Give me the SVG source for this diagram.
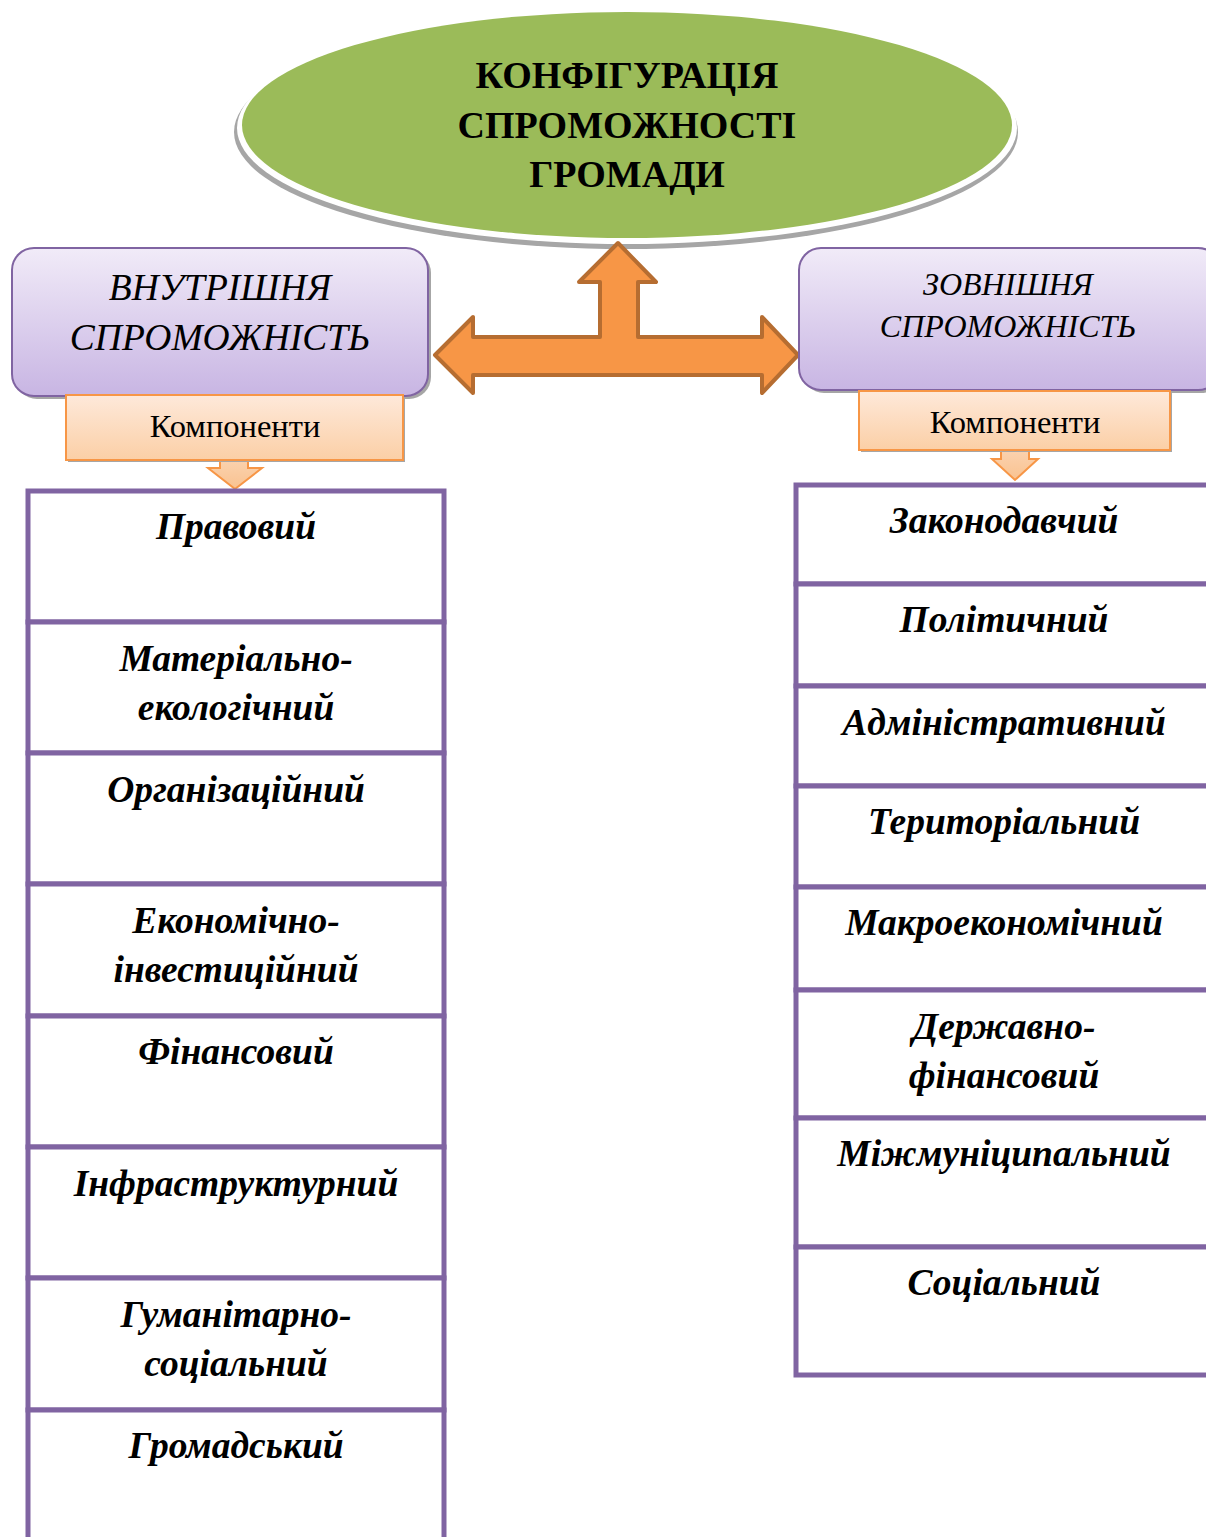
<svg xmlns="http://www.w3.org/2000/svg" width="1206" height="1537" viewBox="0 0 1206 1537">
<defs>
<linearGradient id="gPurple" x1="0" y1="0" x2="0" y2="1">
<stop offset="0" stop-color="#f1ebf8"/>
<stop offset="1" stop-color="#c8b5e3"/>
</linearGradient>
<linearGradient id="gOrange" x1="0" y1="0" x2="0" y2="1">
<stop offset="0" stop-color="#fee9da"/>
<stop offset="1" stop-color="#fbcfa6"/>
</linearGradient>
<linearGradient id="gArrow" x1="0" y1="0" x2="0" y2="1">
<stop offset="0" stop-color="#fbd3b0"/>
<stop offset="1" stop-color="#f9c290"/>
</linearGradient>
</defs>
<style>
.title{font-family:"Liberation Serif","Times New Roman",serif;font-weight:bold;font-size:38px;fill:#000;text-anchor:middle}
.cap{font-family:"Liberation Serif","Times New Roman",serif;font-style:italic;fill:#000;text-anchor:middle}
.comp{font-family:"Liberation Serif","Times New Roman",serif;font-size:32.5px;fill:#000;text-anchor:middle}
.item{font-family:"Liberation Serif","Times New Roman",serif;font-weight:bold;font-style:italic;font-size:37.5px;fill:#000;text-anchor:middle}
.pbox{fill:url(#gPurple);stroke:#8064a2;stroke-width:2}
.shadow{fill:#a6a6a6}
.obox{fill:url(#gOrange);stroke:#f79646;stroke-width:2}
.row{fill:#fff;stroke:#8064a2;stroke-width:5}
.conn{fill:#f79646;stroke:#b66d31;stroke-width:4;stroke-linejoin:round}
.darrow{fill:url(#gArrow);stroke:#f79646;stroke-width:2}
</style>
<rect width="1206" height="1537" fill="#fff"/>

<g id="title">
<ellipse cx="626" cy="132" rx="392" ry="117" class="shadow"/>
<ellipse cx="627" cy="128" rx="390" ry="116" fill="#fff"/>
<ellipse cx="627" cy="125" rx="385" ry="113" fill="#9bbb59"/>
<text class="title" x="627" y="88">КОНФІГУРАЦІЯ</text>
<text class="title" x="627" y="138">СПРОМОЖНОСТІ</text>
<text class="title" x="627" y="187">ГРОМАДИ</text>
</g>

<g id="connectors">
<path class="conn" d="M618,243 L656,282 L638,282 L638,337 L762,337 L762,317 L798,355 L762,393 L762,375 L473,375 L473,393 L435,355 L473,317 L473,337 L600,337 L600,282 L579,282 Z"/>
<path class="darrow" d="M220,458 L248,458 L248,468 L262,468 L235,489 L208,468 L220,468 Z"/>
<path class="darrow" d="M1001,449 L1029,449 L1029,459 L1038,459 L1015,480 L992,459 L1001,459 Z"/>
</g>

<g id="internal">
<rect x="15" y="251" width="416" height="148" rx="22" class="shadow"/>
<rect x="12" y="248" width="416" height="148" rx="22" class="pbox"/>
<text class="cap" font-size="37.5" x="220" y="300">ВНУТРІШНЯ</text>
<text class="cap" font-size="37.5" x="220" y="350">СПРОМОЖНІСТЬ</text>
</g>

<g id="external">
<rect x="802" y="251" width="421" height="142" rx="22" class="shadow"/>
<rect x="799" y="248" width="421" height="142" rx="22" class="pbox"/>
<text class="cap" font-size="32" x="1008" y="295">ЗОВНІШНЯ</text>
<text class="cap" font-size="32" x="1008" y="337">СПРОМОЖНІСТЬ</text>
</g>

<g id="comp-left">
<rect x="68" y="397" width="337" height="65" class="shadow"/>
<rect x="66" y="395" width="337" height="65" class="obox"/>
<text class="comp" x="235" y="437">Компоненти</text>
</g>

<g id="comp-right">
<rect x="861" y="393" width="311" height="59" class="shadow"/>
<rect x="859" y="391" width="311" height="59" class="obox"/>
<text class="comp" x="1015" y="433">Компоненти</text>
</g>

<g id="left-list">
<g id="l1"><rect class="row" x="28" y="491" width="416" height="131"/><text class="item" x="236" y="539">Правовий</text></g>
<g id="l2"><rect class="row" x="28" y="622" width="416" height="131"/><text class="item" x="236" y="671">Матеріально-</text><text class="item" x="236" y="720">екологічний</text></g>
<g id="l3"><rect class="row" x="28" y="753" width="416" height="131"/><text class="item" x="236" y="802">Організаційний</text></g>
<g id="l4"><rect class="row" x="28" y="884" width="416" height="132"/><text class="item" x="236" y="933">Економічно-</text><text class="item" x="236" y="982">інвестиційний</text></g>
<g id="l5"><rect class="row" x="28" y="1016" width="416" height="131"/><text class="item" x="236" y="1064">Фінансовий</text></g>
<g id="l6"><rect class="row" x="28" y="1147" width="416" height="131"/><text class="item" x="236" y="1196">Інфраструктурний</text></g>
<g id="l7"><rect class="row" x="28" y="1278" width="416" height="132"/><text class="item" x="236" y="1327">Гуманітарно-</text><text class="item" x="236" y="1376">соціальний</text></g>
<g id="l8"><rect class="row" x="28" y="1410" width="416" height="140"/><text class="item" x="236" y="1458">Громадський</text></g>
</g>

<g id="right-list">
<g id="r1"><rect class="row" x="796" y="485" width="430" height="99"/><text class="item" x="1004" y="533">Законодавчий</text></g>
<g id="r2"><rect class="row" x="796" y="584" width="430" height="102"/><text class="item" x="1004" y="632">Політичний</text></g>
<g id="r3"><rect class="row" x="796" y="686" width="430" height="100"/><text class="item" x="1004" y="735">Адміністративний</text></g>
<g id="r4"><rect class="row" x="796" y="786" width="430" height="101"/><text class="item" x="1004" y="834">Територіальний</text></g>
<g id="r5"><rect class="row" x="796" y="887" width="430" height="103"/><text class="item" x="1004" y="935">Макроекономічний</text></g>
<g id="r6"><rect class="row" x="796" y="990" width="430" height="128"/><text class="item" x="1004" y="1039">Державно-</text><text class="item" x="1004" y="1088">фінансовий</text></g>
<g id="r7"><rect class="row" x="796" y="1118" width="430" height="129"/><text class="item" x="1004" y="1166">Міжмуніципальний</text></g>
<g id="r8"><rect class="row" x="796" y="1247" width="430" height="128"/><text class="item" x="1004" y="1295">Соціальний</text></g>
</g>
</svg>
